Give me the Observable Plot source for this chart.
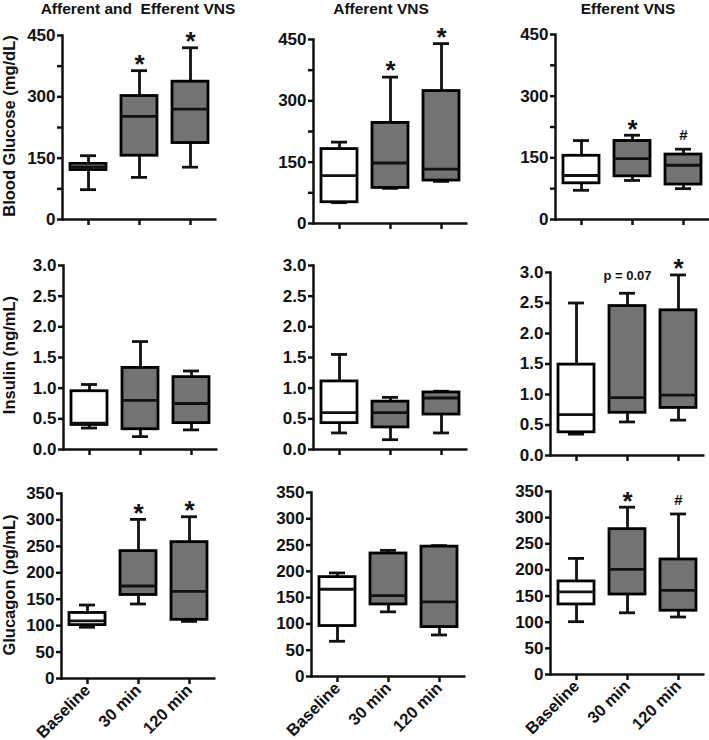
<!DOCTYPE html>
<html><head><meta charset="utf-8">
<script src="https://cdn.jsdelivr.net/npm/d3@7"></script>
<script src="https://cdn.jsdelivr.net/npm/@observablehq/plot@0.6"></script>
<style>
body{margin:0;background:#fff;}
#chart{position:relative;width:709px;height:740px;overflow:hidden;font-family:"Liberation Sans",Arial,sans-serif;font-weight:bold;color:#111;}
#chart svg text{font-family:"Liberation Sans",Arial,sans-serif;font-weight:bold;}
.abs{position:absolute;}
.title{font-size:15.5px;line-height:18px;height:18px;width:300px;text-align:center;white-space:pre;}
.ylab{font-size:16.5px;text-align:center;width:300px;height:20px;line-height:20px;transform:rotate(-90deg);white-space:nowrap;}
</style></head><body><div id="chart"></div>
<script>
const categories = ["Baseline", "30 min", "120 min"];
const groups = ["Afferent and  Efferent VNS", "Afferent VNS", "Efferent VNS"];
const measures = ["Blood Glucose (mg/dL)", "Insulin (ng/mL)", "Glucagon (pg/mL)"];

// five-number summaries per category: [min, q1, median, q3, max]
const glucoseAffEff = [[73, 121, 129, 136, 156], [103, 156, 252, 302, 364], [128, 187, 270, 337, 420]];
const glucoseAff    = [[51, 52, 117, 182, 199], [86, 87, 148, 246, 358], [103, 105, 133, 324, 440]];
const glucoseEff    = [[71, 88, 107, 155, 192], [95, 105, 148, 191, 205], [75, 85, 132, 158, 171]];
const insulinAffEff = [[0.35, 0.40, 0.43, 0.95, 1.06], [0.21, 0.33, 0.80, 1.33, 1.76], [0.32, 0.43, 0.75, 1.18, 1.28]];
const insulinAff    = [[0.27, 0.43, 0.60, 1.11, 1.55], [0.16, 0.36, 0.60, 0.78, 0.85], [0.27, 0.57, 0.84, 0.93, 0.95]];
const insulinEff    = [[0.35, 0.38, 0.67, 1.49, 2.50], [0.55, 0.70, 0.95, 2.45, 2.66], [0.58, 0.78, 0.99, 2.38, 2.96]];
const glucagonAffEff = [[97, 101, 109, 124, 139], [141, 158, 175, 241, 301], [108, 111, 165, 258, 306]];
const glucagonAff    = [[67, 96, 166, 189, 197], [123, 137, 154, 234, 240], [79, 94, 142, 247, 249]];
const glucagonEff    = [[101, 134, 158, 178, 222], [118, 153, 201, 278, 320], [110, 122, 161, 220, 307]];

// significance annotations per panel (per category)
const glucoseNotes  = [["", "*", "*"], ["", "*", "*"], ["", "*", "#"]];
const insulinNotes  = [["", "", ""], ["", "", ""], ["", "p = 0.07", "*"]];
const glucagonNotes = [["", "*", "*"], ["", "", ""], ["", "*", "#"]];

// y-axis ticks
const glucoseTicks = [0, 150, 300, 450];
const glucoseMinorTicks = [75, 225, 375];
const insulinTicks = [0, 0.5, 1.0, 1.5, 2.0, 2.5, 3.0];
const glucagonTicks = [0, 50, 100, 150, 200, 250, 300, 350];

const rows = [
  {stats: [glucoseAffEff, glucoseAff, glucoseEff], notes: glucoseNotes, ticks: glucoseTicks, minor: glucoseMinorTicks, max: 450, fmt: d3.format("d")},
  {stats: [insulinAffEff, insulinAff, insulinEff], notes: insulinNotes, ticks: insulinTicks, minor: null, max: 3, fmt: d3.format(".1f")},
  {stats: [glucagonAffEff, glucagonAff, glucagonEff], notes: glucagonNotes, ticks: glucagonTicks, minor: null, max: 350, fmt: d3.format("d")}
];

// panel placement (pixels)
const layout = [
  [{ax: 62, top: 35, bottom: 219}, {ax: 313, top: 39, bottom: 223}, {ax: 555, top: 34, bottom: 219}],
  [{ax: 63, top: 265, bottom: 449}, {ax: 313, top: 265, bottom: 449}, {ax: 550, top: 272, bottom: 455}],
  [{ax: 61, top: 493, bottom: 678}, {ax: 311, top: 492, bottom: 676}, {ax: 550, top: 491, bottom: 674}]
];
const titleCenters = [138, 381, 628];
const ylabCenters = [126, 355, 585];

const chart = document.getElementById("chart");
const SW = 2.8;

function panel(row, r, c, pos) {
  const stats = row.stats[c];
  const notes = row.notes[c];
  const xLabels = r === 2;
  const mL = 50, mR = 4, mT = 40, mB = xLabels ? 75 : 14;
  const plotW = 154.5;
  const data = categories.map((cat, i) => ({
    cat, min: stats[i][0], q1: stats[i][1], med: stats[i][2], q3: stats[i][3], max: stats[i][4], note: notes[i]
  }));
  const base = data.filter((d, i) => i === 0);
  const treat = data.filter((d, i) => i > 0);
  const marks = [
    Plot.ruleX(data, {x: "cat", y1: "q3", y2: "max", strokeWidth: SW}),
    Plot.ruleX(data, {x: "cat", y1: "min", y2: "q1", strokeWidth: SW}),
    Plot.tickY(data, {x: "cat", y: "max", insetLeft: 10, insetRight: 10, strokeWidth: SW}),
    Plot.tickY(data, {x: "cat", y: "min", insetLeft: 10, insetRight: 10, strokeWidth: SW}),
    Plot.barY(base, {x: "cat", y1: "q1", y2: "q3", fill: "white", stroke: "black", strokeWidth: SW}),
    Plot.barY(treat, {x: "cat", y1: "q1", y2: "q3", fill: "#737373", stroke: "black", strokeWidth: SW}),
    Plot.tickY(data, {x: "cat", y: "med", strokeWidth: SW}),
    Plot.text(data.filter(d => d.note === "*"), {x: "cat", y: "max", text: "note", dy: -6, fontSize: 26}),
    Plot.text(data.filter(d => d.note === "#"), {x: "cat", y: "max", text: "note", dy: -14, fontSize: 15}),
    Plot.text(data.filter(d => d.note.startsWith("p")), {x: "cat", y: "max", text: "note", dy: -17, fontSize: 13}),
    Plot.axisY({ticks: row.ticks, tickSize: 5, tickPadding: 2, tickFormat: row.fmt, fontSize: 17, strokeWidth: 2.5, label: null}),
    row.minor ? Plot.axisY({ticks: row.minor, tickSize: 5, tickFormat: () => "", strokeWidth: 2.5, label: null}) : null,
    xLabels
      ? Plot.axisX({tickSize: 6, tickPadding: 3, tickRotate: -45, fontSize: 16.5, strokeWidth: 2.5, label: null})
      : Plot.axisX({tickSize: 6, tickFormat: () => "", strokeWidth: 2.5, label: null}),
    Plot.frame({anchor: "left", strokeWidth: 2.5}),
    Plot.ruleY([0], {strokeWidth: 2.5})
  ];
  const W = mL + plotW + mR;
  const H = mT + (pos.bottom - pos.top) + mB;
  const svg = Plot.plot({
    width: W, height: H, marginLeft: mL, marginRight: mR, marginTop: mT, marginBottom: mB,
    style: {fontSize: "16px", color: "#111", background: "transparent", overflow: "visible"},
    x: {domain: categories, paddingInner: 0.3, paddingOuter: 0.15, axis: null, label: null},
    y: {domain: [0, row.max], axis: null, label: null},
    marks
  });
  const wrap = document.createElement("div");
  wrap.className = "abs";
  wrap.style.left = (pos.ax - mL) + "px";
  wrap.style.top = (pos.top - mT) + "px";
  wrap.style.width = W + "px";
  wrap.appendChild(svg);
  chart.appendChild(wrap);
}

rows.forEach((row, r) => layout[r].forEach((pos, c) => panel(row, r, c, pos)));

groups.forEach((g, i) => {
  const d = document.createElement("div");
  d.className = "abs title";
  d.style.left = (titleCenters[i] - 150) + "px";
  d.style.top = "0px";
  d.textContent = g;
  chart.appendChild(d);
});
measures.forEach((m, i) => {
  const d = document.createElement("div");
  d.className = "abs ylab";
  d.style.left = (9 - 150) + "px";
  d.style.top = (ylabCenters[i] - 10) + "px";
  d.textContent = m;
  chart.appendChild(d);
});
</script></body></html>
